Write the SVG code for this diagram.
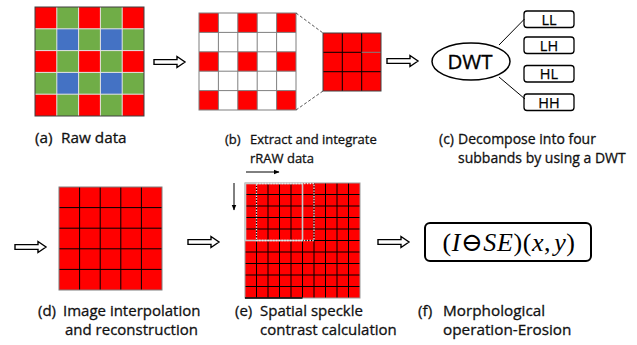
<svg xmlns="http://www.w3.org/2000/svg" width="637" height="345" viewBox="0 0 637 345">
  <style>
    .lbl { font-family: "Open Sans", "Noto Sans", "Liberation Sans", sans-serif; fill: #111; stroke: #111; stroke-width: 0.3; }
    .red { fill: #ff0000; }
    .grn { fill: #70ad47; }
    .blu { fill: #4472c4; }
    .wht { fill: #ffffff; }
    .blk { stroke: #000000; stroke-width: 1; fill: none; }
    .gry { stroke: #7f7f7f; stroke-width: 1; fill: none; }
    .hollow { fill: #ffffff; stroke: #000000; stroke-width: 1.4; stroke-linejoin: miter; }
    .band { fill: #ffffff; stroke: #000000; stroke-width: 1.3; }
    .bandtxt { font-family: "Open Sans", "Noto Sans", "Liberation Sans", sans-serif; font-size: 14.5px; text-anchor: middle; fill: #000; stroke: #000; stroke-width: 0.25; }
  </style>
  <defs>
    <!-- hollow block arrow, tip at (31,0) -->
    <polygon id="bigArrow" class="hollow" points="0,-2.4 23,-2.4 23,-5.5 31,0 23,5.5 23,2.4 0,2.4"/>
    <marker id="tip" viewBox="0 0 10 10" refX="9" refY="5" markerWidth="6" markerHeight="6" orient="auto">
      <path d="M0,1 L10,5 L0,9 Z" fill="#000"/>
    </marker>
  </defs>

  <!-- (a) Bayer raw data -->
  <g id="raw-data">
    <rect class="grn" x="35" y="7" width="109" height="109"/>
    <rect class="red" x="35" y="7" width="21.8" height="21.8"/>
    <rect class="red" x="78.6" y="7" width="21.8" height="21.8"/>
    <rect class="red" x="122.2" y="7" width="21.8" height="21.8"/>
    <rect class="red" x="35" y="50.6" width="21.8" height="21.8"/>
    <rect class="red" x="78.6" y="50.6" width="21.8" height="21.8"/>
    <rect class="red" x="122.2" y="50.6" width="21.8" height="21.8"/>
    <rect class="red" x="35" y="94.2" width="21.8" height="21.8"/>
    <rect class="red" x="78.6" y="94.2" width="21.8" height="21.8"/>
    <rect class="red" x="122.2" y="94.2" width="21.8" height="21.8"/>
    <rect class="blu" x="56.8" y="28.8" width="21.8" height="21.8"/>
    <rect class="blu" x="100.4" y="28.8" width="21.8" height="21.8"/>
    <rect class="blu" x="56.8" y="72.4" width="21.8" height="21.8"/>
    <rect class="blu" x="100.4" y="72.4" width="21.8" height="21.8"/>
    <path d="M56.8,7V116M78.6,7V116M100.4,7V116M122.2,7V116M35,28.8H144M35,50.6H144M35,72.4H144M35,94.2H144" stroke="#e6e6e6" stroke-width="1" fill="none"/>
    <rect x="35" y="7" width="109" height="109" fill="none" stroke="#404040" stroke-width="1"/>
    <text class="lbl" font-size="15.3"><tspan x="35" y="143">(a)</tspan><tspan x="61" y="143">Raw data</tspan></text>
  </g>

  <!-- (b) red-channel extraction -->
  <g id="extract">
    <rect class="wht" x="199" y="13" width="97" height="97"/>
    <rect class="red" x="199" y="13" width="19.4" height="19.4"/>
    <rect class="red" x="237.8" y="13" width="19.4" height="19.4"/>
    <rect class="red" x="276.6" y="13" width="19.4" height="19.4"/>
    <rect class="red" x="199" y="51.8" width="19.4" height="19.4"/>
    <rect class="red" x="237.8" y="51.8" width="19.4" height="19.4"/>
    <rect class="red" x="276.6" y="51.8" width="19.4" height="19.4"/>
    <rect class="red" x="199" y="90.6" width="19.4" height="19.4"/>
    <rect class="red" x="237.8" y="90.6" width="19.4" height="19.4"/>
    <rect class="red" x="276.6" y="90.6" width="19.4" height="19.4"/>
    <path class="gry" d="M218.4,13V110M237.8,13V110M257.2,13V110M276.6,13V110M199,32.4H296M199,51.8H296M199,71.2H296M199,90.6H296"/>
    <rect class="gry" x="199" y="13" width="97" height="97"/>

    <rect class="red" x="323" y="33" width="58" height="58"/>
    <path class="blk" d="M342.3,33V91M361.7,33V91M323,52.3H361.7M323,71.7H381"/>
    <path d="M361.7,52.3H381" stroke="#808080" stroke-width="1"/>
    <rect x="323" y="33" width="58" height="58" fill="none" stroke="#404040" stroke-width="1"/>

    <text class="lbl" font-size="13"><tspan x="225" y="144">(b)</tspan><tspan x="250" y="144">Extract and integrate</tspan></text>
    <text class="lbl" font-size="13" x="250" y="163">rRAW data</text>
  </g>

  <!-- (c) wavelet decomposition -->
  <g id="dwt">
    <ellipse cx="471" cy="61.5" rx="39" ry="18.5" fill="#fff" stroke="#000" stroke-width="1.5"/>
    <text x="470" y="68.5" font-family="Open Sans, Noto Sans, Liberation Sans, sans-serif" font-size="20.5" text-anchor="middle" fill="#000" stroke="#000" stroke-width="0.35">DWT</text>
  </g>
  <g id="band-ll"><rect class="band" x="524" y="11" width="50" height="16.5" rx="3"/><text class="bandtxt" x="549" y="24.5">LL</text></g>
  <g id="band-lh"><rect class="band" x="524" y="37" width="50" height="16.5" rx="3"/><text class="bandtxt" x="549" y="50.5">LH</text></g>
  <g id="band-hl"><rect class="band" x="524" y="65.5" width="50" height="16.5" rx="3"/><text class="bandtxt" x="549" y="79">HL</text></g>
  <g id="band-hh"><rect class="band" x="524" y="94" width="50" height="16.5" rx="3"/><text class="bandtxt" x="549" y="107.5">HH</text></g>
  <g id="dwt-label">
    <text class="lbl" font-size="14"><tspan x="439" y="144">(c)</tspan><tspan x="458" y="144">Decompose into four</tspan></text>
    <text class="lbl" font-size="14" x="458" y="163">subbands by using a DWT</text>
  </g>

  <!-- (d) interpolated image -->
  <g id="interp">
    <rect class="red" x="59" y="187" width="103" height="103"/>
    <path class="blk" d="M79.6,187V290M100.2,187V290M120.8,187V290M141.4,187V290M59,207.6H162M59,228.2H162M59,248.8H162M59,269.4H162"/>
    <rect class="gry" x="59" y="187" width="103" height="103"/>
    <text class="lbl" font-size="15"><tspan x="38" y="316">(d)</tspan><tspan x="63" y="316">Image interpolation</tspan></text>
    <text class="lbl" font-size="15" x="65" y="335">and reconstruction</text>
  </g>

  <!-- (e) sliding window speckle contrast -->
  <g id="speckle">
    <rect class="red" x="245" y="183" width="115" height="115"/>
    <path class="blk" d="M256.5,183V298M268,183V298M279.5,183V298M291,183V298M302.5,183V298M314,183V298M325.5,183V298M337,183V298M348.5,183V298M245,194.5H360M245,206H360M245,217.5H360M245,229H360M245,240.5H360M245,252H360M245,263.5H360M245,275H360M245,286.5H360"/>
    <rect x="245" y="183" width="115" height="115" fill="none" stroke="#999" stroke-width="1"/>
    <path d="M245,298H302.5" stroke="#000" stroke-width="1.5"/>
    <rect x="245.5" y="183.5" width="57" height="57" fill="none" stroke="#c8c8c8" stroke-width="1.6"/>
    <rect x="256.5" y="183.5" width="57.5" height="57" fill="none" stroke="#e8e8e8" stroke-width="1.3" stroke-dasharray="1.4,1.4"/>
    <path d="M246,172H279" stroke="#000" stroke-width="1" marker-end="url(#tip)"/>
    <path d="M234,183V210" stroke="#000" stroke-width="1" marker-end="url(#tip)"/>
    <text class="lbl" font-size="15"><tspan x="235" y="316">(e)</tspan><tspan x="260" y="316">Spatial speckle</tspan></text>
    <text class="lbl" font-size="15" x="260" y="335">contrast calculation</text>
  </g>

  <!-- (f) erosion formula -->
  <g id="erosion">
    <rect x="425" y="223" width="166" height="38" rx="5" fill="#fff" stroke="#000" stroke-width="2"/>
    <text x="509" y="251" font-family="Liberation Serif, DejaVu Serif, serif" font-size="26" text-anchor="middle" letter-spacing="0.6" fill="#000">(<tspan font-style="italic">I</tspan>⊖<tspan font-style="italic">SE</tspan>)(<tspan font-style="italic">x</tspan>,<tspan font-style="italic" dx="3">y</tspan>)</text>
    <text class="lbl" font-size="15.3"><tspan x="418" y="316">(f)</tspan><tspan x="443" y="316">Morphological</tspan></text>
    <text class="lbl" font-size="15.3" x="443" y="335">operation-Erosion</text>
  </g>

  <!-- connectors -->
  <g id="connectors">
    <path d="M296,13L323,33M296,110L323,91" stroke="#555" stroke-width="1" stroke-dasharray="3,2" fill="none"/>
    <path d="M499,45L524.5,19M499,77L525,99" stroke="#000" stroke-width="1" fill="none"/>
    <use href="#bigArrow" x="154" y="62"/>
    <use href="#bigArrow" x="387" y="61"/>
    <use href="#bigArrow" x="15" y="247"/>
    <use href="#bigArrow" x="188" y="242"/>
    <use href="#bigArrow" x="378" y="242"/>
  </g>
</svg>
